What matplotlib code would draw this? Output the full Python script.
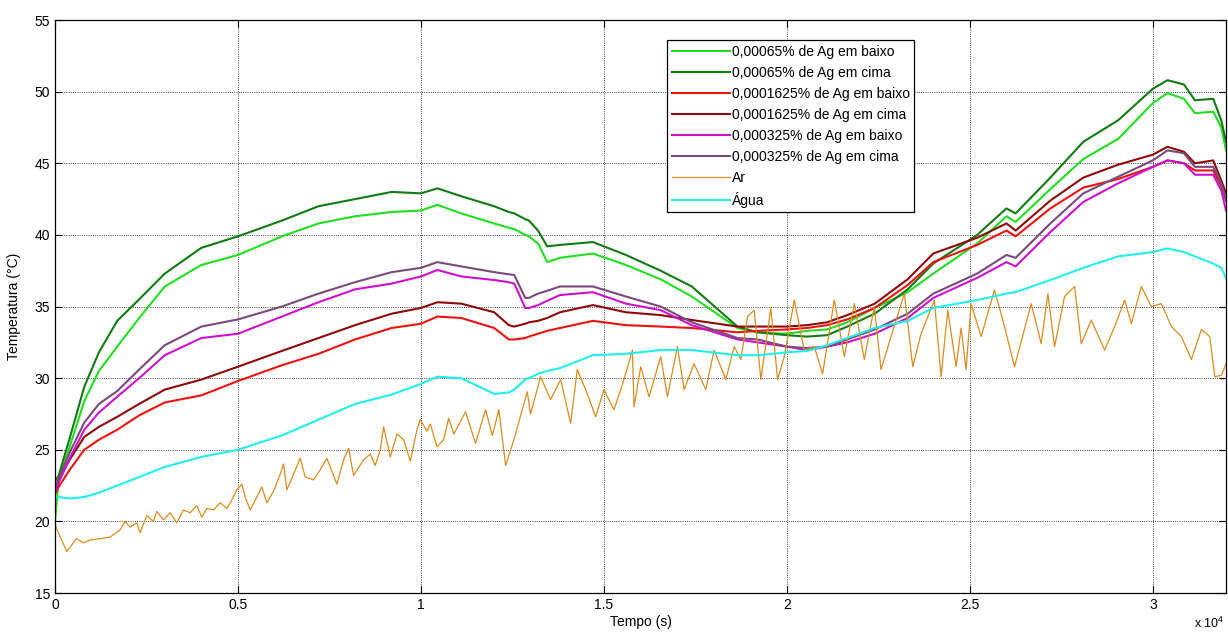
import numpy as np
import matplotlib
matplotlib.use("Agg")
import matplotlib.pyplot as plt
from matplotlib.ticker import FuncFormatter

plt.rcParams['font.family'] = ['Liberation Sans', 'DejaVu Sans']
plt.rcParams['mathtext.default'] = 'regular'

# tempo comum das curvas suaves (s)
tempo = [0, 100, 400, 800, 1200, 1700, 2300, 3000, 4000, 5000, 6200, 7200, 8200, 9200,
         10000, 10450, 11100, 12000, 12400, 12550, 12850, 12950, 13200, 13450, 13800,
         14700, 15600, 16550, 17400, 18650, 19200, 20000, 20550, 21100, 21650, 22400,
         23300, 24000, 25200, 26000, 26250, 27200, 28100, 29050, 30000, 30400, 30850,
         31150, 31650, 31870, 32000]

verde_baixo = [20.0, 22.9, 25.2, 28.4, 30.5, 32.2, 34.2, 36.4, 37.9, 38.6, 39.9, 40.8, 41.3, 41.6,
               41.7, 42.1, 41.5, 40.8, 40.5, 40.4, 40.0, 39.9, 39.4, 38.1, 38.4,
               38.7, 37.9, 36.9, 35.7, 33.5, 33.2, 33.1, 33.3, 33.4, 33.9, 34.9,
               36.0, 37.3, 39.4, 41.3, 40.9, 43.2, 45.3, 46.7, 49.2, 49.9, 49.5,
               48.5, 48.6, 47.5, 45.9]
verde_cima = [22.8, 23.2, 25.8, 29.4, 31.8, 34.0, 35.5, 37.3, 39.1, 39.9, 41.0, 42.0, 42.5, 43.0,
              42.9, 43.25, 42.7, 42.0, 41.6, 41.5, 41.1, 41.0, 40.3, 39.2, 39.3,
              39.5, 38.6, 37.5, 36.4, 33.6, 33.2, 33.0, 32.9, 33.0, 33.6, 34.5,
              36.2, 38.0, 40.0, 41.85, 41.5, 44.0, 46.5, 48.0, 50.2, 50.8, 50.5,
              49.4, 49.5, 48.0, 46.5]
verm_baixo = [21.9, 22.4, 23.6, 25.0, 25.7, 26.4, 27.4, 28.3, 28.8, 29.8, 30.9, 31.7, 32.7, 33.5,
              33.8, 34.3, 34.2, 33.5, 32.7, 32.7, 32.8, 32.9, 33.1, 33.3, 33.5,
              34.0, 33.7, 33.6, 33.5, 33.2, 33.3, 33.4, 33.5, 33.7, 34.1, 34.9,
              36.5, 38.1, 39.3, 40.3, 39.9, 41.85, 43.3, 43.9, 44.75, 45.2, 45.0,
              44.5, 44.5, 43.4, 42.4]
verm_cima = [22.0, 22.9, 24.3, 25.9, 26.6, 27.3, 28.2, 29.2, 29.9, 30.8, 31.9, 32.8, 33.7, 34.5,
             34.9, 35.3, 35.2, 34.6, 33.7, 33.6, 33.8, 33.9, 34.0, 34.2, 34.6,
             35.1, 34.6, 34.4, 34.06, 33.6, 33.6, 33.6, 33.7, 33.9, 34.4, 35.2,
             36.9, 38.7, 39.8, 40.8, 40.3, 42.4, 44.0, 44.9, 45.6, 46.15, 45.8,
             45.0, 45.2, 43.8, 42.9]
mag_baixo = [22.0, 22.7, 24.4, 26.4, 27.6, 28.7, 30.0, 31.6, 32.8, 33.1, 34.3, 35.3, 36.2, 36.6,
             37.1, 37.55, 37.1, 36.85, 36.7, 36.6, 34.9, 34.9, 35.1, 35.4, 35.8,
             36.0, 35.2, 34.75, 33.7, 32.7, 32.5, 32.2, 31.96, 32.2, 32.5, 33.1,
             34.2, 35.6, 37.0, 38.1, 37.8, 40.2, 42.3, 43.6, 44.75, 45.2, 45.0,
             44.2, 44.2, 43.1, 41.7]
roxo_cima = [22.3, 23.0, 24.8, 26.9, 28.2, 29.1, 30.6, 32.3, 33.6, 34.1, 35.0, 35.9, 36.7, 37.4,
             37.7, 38.1, 37.8, 37.4, 37.25, 37.2, 35.6, 35.6, 35.9, 36.1, 36.4,
             36.4, 35.7, 35.0, 33.9, 32.8, 32.7, 32.2, 32.1, 32.2, 32.7, 33.4,
             34.5, 35.9, 37.3, 38.6, 38.4, 40.8, 42.9, 44.06, 45.2, 45.9, 45.7,
             44.75, 44.75, 43.6, 42.4]
agua = [21.7, 21.7, 21.6, 21.7, 22.0, 22.5, 23.1, 23.8, 24.5, 25.0, 26.0, 27.1, 28.2, 28.85,
        29.6, 30.1, 30.0, 28.9, 29.0, 29.2, 29.9, 30.0, 30.3, 30.5, 30.7,
        31.6, 31.7, 31.96, 31.96, 31.6, 31.6, 31.8, 31.9, 32.3, 32.8, 33.5,
        34.0, 34.9, 35.45, 35.9, 36.0, 36.85, 37.7, 38.5, 38.8, 39.06, 38.8,
        38.5, 38.0, 37.7, 37.0]

# ar (leituras ponto a ponto)
tempo_ar = [0, 27, 319, 593, 775, 957, 1231, 1504, 1778, 1914, 2051, 2233, 2325, 2507, 2689,
            2780, 2963, 3145, 3327, 3510, 3692, 3874, 4011, 4148, 4330, 4513, 4695, 4832,
            4968, 5105, 5196, 5333, 5515, 5652, 5789, 5971, 6153, 6245, 6336, 6518, 6700,
            6837, 7065, 7247, 7429, 7566, 7703, 7885, 8022, 8159, 8432, 8615, 8751, 8888,
            8980, 9162, 9344, 9527, 9709, 9891, 9982, 10164, 10256, 10438, 10620, 10757,
            10898, 11218, 11491, 11765, 11950, 12129, 12312, 12540, 12905,
            12996, 13269, 13543, 13817, 14090, 14272, 14546, 14774, 15000, 15275, 15549,
            15777, 15823, 16005, 16233, 16552, 16735, 17008, 17190, 17464, 17783, 18011,
            18331, 18559, 18742, 18924, 19106, 19289, 19562, 19745, 19927, 20201, 20474,
            20748, 20976, 21295, 21569, 21842, 22115, 22389, 22572, 22845, 23210, 23438,
            23666, 24030, 24213, 24396, 24624, 24760, 24897, 25034, 25308, 25672, 25900,
            26220, 26676, 26950, 27132, 27314, 27588, 27862, 28044, 28318, 28683, 28956,
            29229, 29412, 29685, 29959, 30233, 30506, 30780, 31053, 31327, 31555, 31692,
            31874, 32000]
ar = [20.0, 19.6, 17.9, 18.8, 18.5, 18.7, 18.8, 18.9, 19.4, 20.0, 19.6, 19.9, 19.2, 20.4, 20.0,
      20.7, 20.1, 20.6, 19.9, 20.8, 20.6, 21.1, 20.3, 20.9, 20.8, 21.3, 20.9, 21.5,
      22.2, 22.6, 21.7, 20.8, 21.7, 22.4, 21.3, 22.1, 23.3, 24.0, 22.2, 23.3, 24.4,
      23.1, 22.9, 23.6, 24.4, 23.5, 22.6, 24.3, 25.1, 23.2, 24.3, 24.7, 23.9, 25.0,
      26.6, 24.5, 26.1, 25.7, 24.2, 26.4, 27.1, 26.3, 26.8, 25.2, 25.7, 27.2,
      26.1, 27.65, 25.45, 27.8, 26.0, 27.8, 23.9, 25.7, 29.05,
      27.5, 30.1, 28.5, 29.9, 26.85, 30.6, 28.9, 27.3, 29.2, 27.8, 29.9,
      31.96, 28.0, 30.8, 28.7, 31.5, 28.7, 32.2, 29.2, 31.0, 29.2, 31.96,
      29.9, 32.2, 31.3, 34.3, 34.75, 29.9, 34.9, 29.9, 31.5, 35.45, 31.96,
      32.2, 30.3, 35.45, 31.5, 35.2, 31.3, 35.0, 30.6, 32.9, 35.9, 30.8,
      33.1, 35.45, 30.1, 34.75, 30.8, 33.5, 30.6, 35.2, 32.9, 36.15, 34.06,
      30.8, 35.2, 32.4, 35.9, 32.2, 35.7, 36.4, 32.4, 34.06, 31.96, 33.6,
      35.45, 33.8, 36.4, 35.0, 35.2, 33.6, 32.9, 31.3, 33.4, 32.9, 30.1,
      30.2, 31.0]

fig = plt.figure(figsize=(12.28, 6.32), dpi=100)
ax = fig.add_axes([0.0448, 0.0617, 0.9536, 0.9066])

ax.plot(tempo, verde_baixo, color='#22dd22', lw=1.5, label='0,00065% de Ag em baixo')
ax.plot(tempo, verde_cima, color='#127a12', lw=1.5, label='0,00065% de Ag em cima')
ax.plot(tempo, verm_baixo, color='#ee1111', lw=1.5, label='0,0001625% de Ag em baixo')
ax.plot(tempo, verm_cima, color='#8c0a0a', lw=1.5, label='0,0001625% de Ag em cima')
ax.plot(tempo, mag_baixo, color='#cc11cc', lw=1.5, label='0,000325% de Ag em baixo')
ax.plot(tempo, roxo_cima, color='#7a4a7a', lw=1.5, label='0,000325% de Ag em cima')
ax.plot(tempo_ar, ar, color='#d98c1f', lw=0.9, label='Ar')
ax.plot(tempo, agua, color='#22eeee', lw=1.5, label='Água')

ax.set_xlim(0, 32000)
ax.set_ylim(15, 55)
ax.set_xticks(np.arange(0, 30001, 5000))
ax.set_yticks(np.arange(15, 56, 5))
ax.xaxis.set_major_formatter(FuncFormatter(lambda v, p: f"{v/1e4:g}"))
ax.tick_params(direction='in', top=True, right=True, length=5, labelsize=10)
ax.grid(True, color='k', linestyle=':', linewidth=0.6)
for s in ax.spines.values():
    s.set_linewidth(0.9)

ax.set_xlabel('Tempo (s)', fontsize=10, labelpad=2)
ax.set_ylabel('Temperatura (°C)', fontsize=10, labelpad=10)
fig.text(0.972, 0.002, r'x 10$^4$', fontsize=9, ha='left', va='bottom')

leg = ax.legend(loc='upper left', bbox_to_anchor=(0.5226, 0.965), borderaxespad=0,
                fontsize=10, handlelength=4.2, handletextpad=0.1, labelspacing=0.5,
                borderpad=0.35, fancybox=False, edgecolor='k', framealpha=1)
leg.get_frame().set_linewidth(0.9)

fig.savefig('out.png', dpi=100)
